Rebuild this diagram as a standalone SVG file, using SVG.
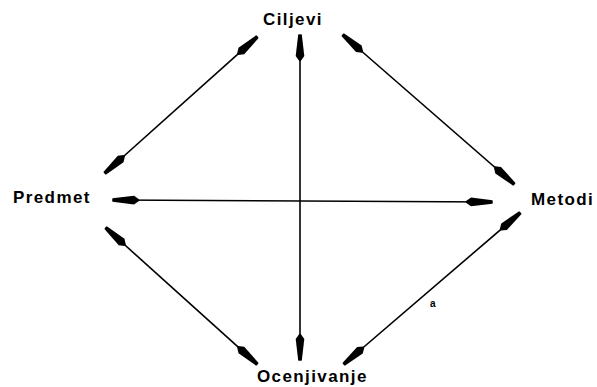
<svg xmlns="http://www.w3.org/2000/svg" width="597" height="387" viewBox="0 0 597 387">
<style>
.lbl{font-family:"Liberation Sans",Arial,sans-serif;font-weight:bold;font-size:17px;letter-spacing:1.4px;fill:#000}
.ln{stroke:#000;stroke-width:1.6;fill:none;marker-start:url(#ah);marker-end:url(#ah)}
</style>
<defs>
<marker id="ah" markerUnits="userSpaceOnUse" viewBox="-29 -6 31 12" refX="0" refY="0" markerWidth="31" markerHeight="12" orient="auto-start-reverse">
<path d="M0.5,-1.8 Q1.2,0 0.5,1.8 L-21,4.3 L-26,0.8 L-26,-0.8 L-21,-4.3 Z" fill="#000"/>
</marker>
</defs>
<rect width="597" height="387" fill="#fff"/>
<g id="connectors">
<line class="ln" x1="257" y1="37" x2="105" y2="173"/>
<line class="ln" x1="300" y1="35" x2="300" y2="360"/>
<line class="ln" x1="343" y1="35" x2="514" y2="184"/>
<line class="ln" x1="113" y1="200" x2="492" y2="202"/>
<line class="ln" x1="106" y1="228" x2="257" y2="364"/>
<line class="ln" x1="520" y1="213" x2="344" y2="364"/>
</g>
<g id="n-ciljevi"><text class="lbl" x="263" y="25">Ciljevi</text></g>
<g id="n-predmet"><text class="lbl" x="13" y="203">Predmet</text></g>
<g id="n-metodi"><text class="lbl" x="531" y="205">Metodi</text></g>
<g id="n-ocenjivanje"><text class="lbl" x="257" y="382">Ocenjivanje</text></g>
<text x="430" y="307" font-family="Liberation Sans,Arial,sans-serif" font-weight="bold" font-size="10">a</text>
</svg>
